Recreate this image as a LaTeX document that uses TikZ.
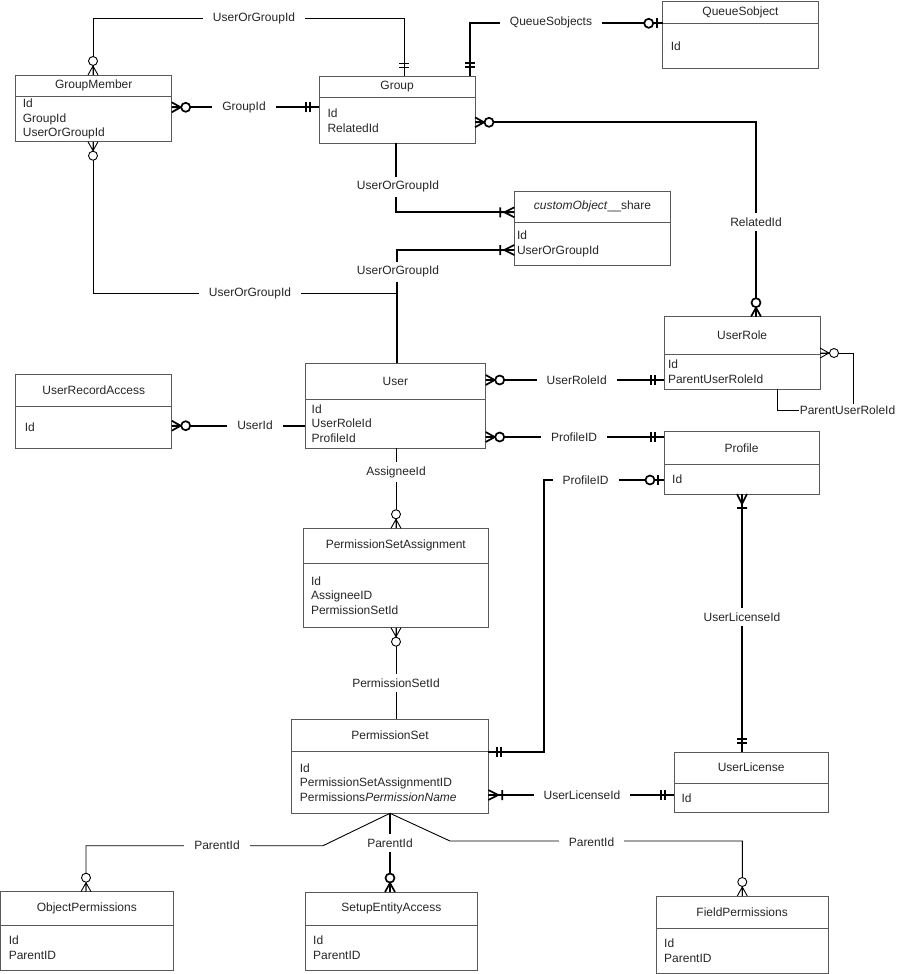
\documentclass[tikz,border=0pt]{standalone}
\usepackage{fontspec}
\setmainfont{Liberation Sans}
\usetikzlibrary{positioning}
\tikzstyle{ent}=[draw=black!65,line width=0.9pt,inner sep=0pt,outer sep=0pt]
\tikzstyle{entdiv}=[draw=black!65,line width=0.9pt]
\tikzstyle{hdr}=[inner sep=0pt,text=black!85]
\tikzstyle{fld}=[anchor=west,align=left,inner sep=0pt,text=black!85]
\tikzstyle{rel}=[line width=0.9pt]
\tikzstyle{relB}=[line width=1.7pt]
\tikzstyle{lbl}=[fill=white,inner xsep=10pt,inner ysep=4.5pt,text=black!85]
\tikzset{
  zmany/.pic={\draw (0,-5) -- (9,0) (0,5) -- (9,0) (0,0) -- (9,0);
              \draw[fill=white] (14,0) circle (4.5pt);},
  omany/.pic={\draw (0,-5) -- (10,0) (0,5) -- (10,0) (0,0) -- (14,0) (14,-5) -- (14,5);},
  exone/.pic={\draw (9,-5) -- (9,5) (13,-5) -- (13,5);},
  zone/.pic={\draw (6,-5) -- (6,5); \draw[fill=white] (14,0) circle (4.5pt);}
}
% entity: name, x1, y1, x2, y2, divider, indent, title, fields
\newcommand\entity[9]{%
  \node[ent,minimum width={#4-#2},minimum height={#5-#3}] (#1) at ({(#2+#4)/2},{(#3+#5)/2}) {};
  \draw[entdiv] (#1.west |- 0,#6) -- (#1.east |- 0,#6);
  \node[hdr] (#1-t) at ({(#2+#4)/2},{(#3+#6)/2}) {#8};
  \node[fld] (#1-f) at ({#2+#7},{(#6+#5)/2}) {#9};
}

\begin{document}
\begin{tikzpicture}[x=1pt,y=-1pt,font=\fontsize{12}{14.5}\selectfont]
\useasboundingbox (0,0) rectangle (897,974);
% entities
\entity{gmember}{15.7}{75}{171.7}{141.7}{96.7}{7}{GroupMember}{Id\\GroupId\\UserOrGroupId}
\entity{group}{319.3}{76}{475}{143.3}{97.7}{8}{Group}{Id\\RelatedId}
\entity{queue}{662.7}{1}{818.3}{68.3}{23.3}{8}{QueueSobject}{Id}
\entity{cshare}{514.3}{191}{670.7}{265.7}{222.3}{2.5}{\textit{customObject}\_\_share}{Id\\UserOrGroupId}
\entity{urole}{664.3}{316.7}{820}{389}{354}{3.5}{UserRole}{Id\\ParentUserRoleId}
\entity{user}{305}{363.3}{485.7}{448}{399.3}{6.5}{User}{Id\\UserRoleId\\ProfileId}
\entity{uraccess}{15.7}{374.3}{171.7}{448.3}{406}{9}{UserRecordAccess}{Id}
\entity{profile}{664}{431.7}{819}{494}{464}{8}{Profile}{Id}
\entity{psa}{303.3}{528.3}{488.3}{627.7}{563.3}{7.5}{PermissionSetAssignment}{Id\\AssigneeID\\PermissionSetId}
\entity{pset}{291.7}{719.3}{488.3}{813.3}{751.7}{8}{PermissionSet}{Id\\PermissionSetAssignmentID\\Permissions\textit{PermissionName}}
\entity{ulicense}{674.3}{752}{828}{812.7}{783}{7}{UserLicense}{Id}
\entity{objperm}{0.6}{891.7}{173}{970}{925}{8}{ObjectPermissions}{Id\\ParentID}
\entity{seaccess}{305}{892}{477.7}{970}{925.7}{8}{SetupEntityAccess}{Id\\ParentID}
\entity{fperm}{656}{896}{828.3}{973.3}{928.3}{8}{FieldPermissions}{Id\\ParentID}
% relations
\draw[rel] (gmember.north -| 93,0) -- (93,18.3) -- (404,18.3) -- (group.north -| 404,0);
\draw[relB] (gmember.east |- 0,107.3) -- (group.west |- 0,107.3);
\draw[relB] (group.north -| 470,0) -- (470,23.3) -- (queue.west |- 0,23.3);
\draw[relB] (group.east |- 0,122.3) -- (756,122.3) -- (urole.north -| 756,0);
\draw[relB] (group.south -| 396,0) -- (396,212.3) -- (cshare.west |- 0,212.3);
\draw[rel] (gmember.south -| 93,0) -- (93,293) -- (397,293) -- (user.north -| 397,0);
\draw[relB] (user.north -| 397,0) -- (397,250) -- (cshare.west |- 0,250);
\draw[relB] (user.east |- 0,380) -- (urole.west |- 0,380);
\draw[rel] (urole.east |- 0,353) -- (853,353) -- (853,410.5) -- (777,410.5) -- (urole.south -| 777,0);
\draw[relB] (uraccess.east |- 0,425.7) -- (user.west |- 0,425.7);
\draw[relB] (user.east |- 0,437) -- (profile.west |- 0,437);
\draw[rel] (user.south -| 396,0) -- (psa.north -| 396,0);
\draw[rel] (psa.south -| 396,0) -- (pset.north -| 396,0);
\draw[relB] (pset.east |- 0,751.7) -- (544.3,751.7) -- (544.3,480) -- (profile.west |- 0,480);
\draw[relB] (profile.south -| 742,0) -- (ulicense.north -| 742,0);
\draw[relB] (pset.east |- 0,795) -- (ulicense.west |- 0,795);
\draw[rel] (pset.south -| 390,0) -- (323,845.7) -- (86,845.7) -- (objperm.north -| 86,0);
\draw[relB] (pset.south -| 390,0) -- (seaccess.north -| 390,0);
\draw[rel] (pset.south -| 390,0) -- (450,841) -- (742.3,841) -- (fperm.north -| 742.3,0);
% labels
\foreach \n/\p/\t in {l1/{254,18.3}/UserOrGroupId, l2/{244,107.3}/GroupId,
    l3/{551,22.5}/QueueSobjects, l4/{756,222}/RelatedId,
    l5/{398,186.7}/UserOrGroupId, l6/{398,271.7}/UserOrGroupId,
    l7/{250,293}/UserOrGroupId, l8/{576.7,380}/UserRoleId,
    l9/{255,425.7}/UserId, l10/{574,437}/ProfileID,
    l11/{396,472}/AssigneeId, l12/{585.5,480}/ProfileID,
    l13/{396,683}/PermissionSetId, l14/{742,617}/UserLicenseId,
    l15/{582,795}/UserLicenseId, l16/{217,845}/ParentId,
    l17/{390,843}/ParentId, l18/{591.5,842}/ParentId}
  {\node[lbl] (\n) at (\p) {\t};}
\node[lbl,inner xsep=0.5pt,inner ysep=2pt] (l19) at (847.5,410.5) {ParentUserRoleId};
% ends
\pic[rel,rotate=90] at (gmember.north -| 93,0) {zmany};
\pic[rel,rotate=90] at (group.north -| 404,0) {exone};
\pic[relB] at (gmember.east |- 0,107.3) {zmany};
\pic[relB,rotate=180] at (group.west |- 0,107.3) {exone};
\pic[relB,rotate=90] at (group.north -| 470,0) {exone};
\pic[relB,rotate=180] at (queue.west |- 0,23.3) {zone};
\pic[relB] at (group.east |- 0,122.3) {zmany};
\pic[relB,rotate=90] at (urole.north -| 756,0) {zmany};
\pic[relB,rotate=180] at (cshare.west |- 0,212.3) {omany};
\pic[relB,rotate=180] at (cshare.west |- 0,250) {omany};
\pic[rel,rotate=-90] at (gmember.south -| 93,0) {zmany};
\pic[relB] at (user.east |- 0,380) {zmany};
\pic[relB,rotate=180] at (urole.west |- 0,380) {exone};
\pic[rel] at (urole.east |- 0,353) {zmany};
\pic[relB] at (uraccess.east |- 0,425.7) {zmany};
\pic[relB] at (user.east |- 0,437) {zmany};
\pic[relB,rotate=180] at (profile.west |- 0,437) {exone};
\pic[rel,rotate=90] at (psa.north -| 396,0) {zmany};
\pic[rel,rotate=-90] at (psa.south -| 396,0) {zmany};
\pic[relB] at (pset.east |- 0,751.7) {exone};
\pic[relB,rotate=180] at (profile.west |- 0,480) {zone};
\pic[relB,rotate=-90] at (profile.south -| 742,0) {omany};
\pic[relB,rotate=90] at (ulicense.north -| 742,0) {exone};
\pic[relB] at (pset.east |- 0,795) {omany};
\pic[relB,rotate=180] at (ulicense.west |- 0,795) {exone};
\pic[rel,rotate=90] at (objperm.north -| 86,0) {zmany};
\pic[relB,rotate=90] at (seaccess.north -| 390,0) {zmany};
\pic[rel,rotate=90] at (fperm.north -| 742.3,0) {zmany};
\end{tikzpicture}
\end{document}
